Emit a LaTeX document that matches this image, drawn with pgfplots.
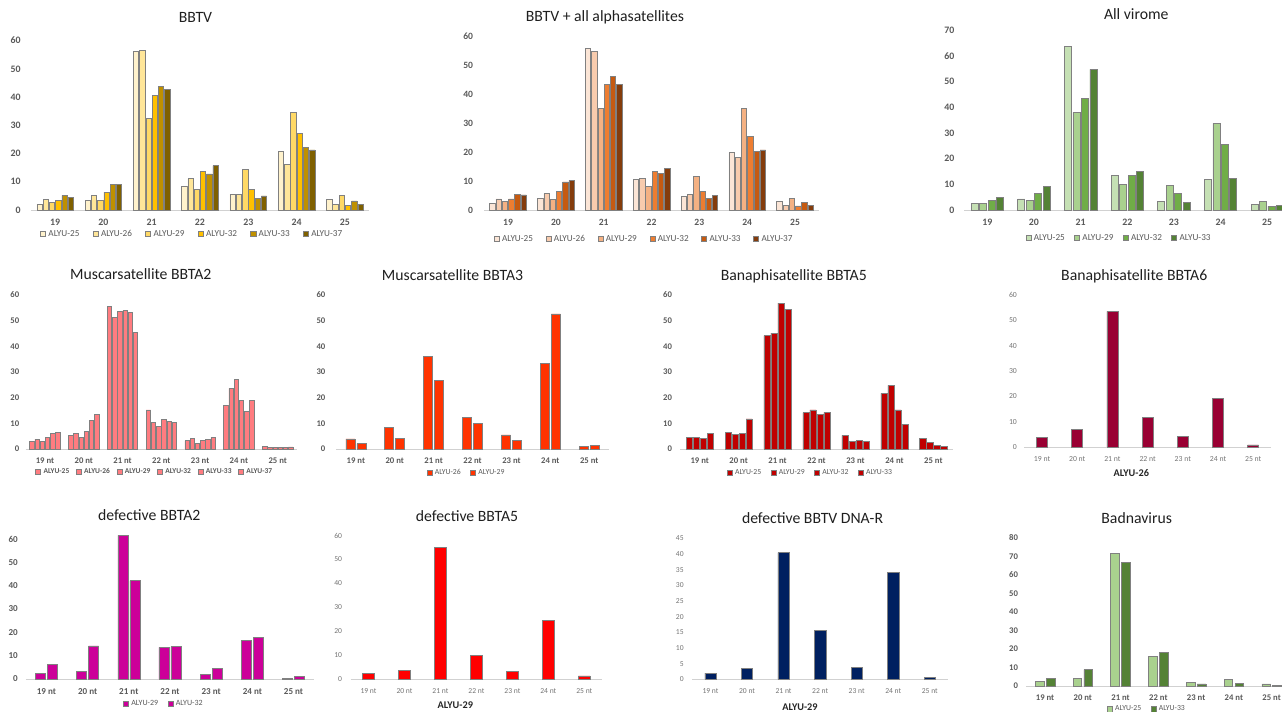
\documentclass[border=0pt]{standalone}
\usepackage{fontspec}
\setmainfont{Carlito}
\usepackage{pgfplots}
\usepackage{pgfplotstable}
\pgfplotsset{compat=1.18}
\newcommand{\fs}[1]{\fontsize{#1}{#1}\selectfont}
\definecolor{tg}{HTML}{595959}
\definecolor{ya}{HTML}{FFF2CC}\definecolor{yb}{HTML}{FFE699}\definecolor{yc}{HTML}{FFD966}
\definecolor{yd}{HTML}{FFC000}\definecolor{ye}{HTML}{BF9000}\definecolor{yf}{HTML}{7F6000}
\definecolor{oa}{HTML}{FBE5D6}\definecolor{ob}{HTML}{F8CBAD}\definecolor{oc}{HTML}{F4B183}
\definecolor{od}{HTML}{ED7D31}\definecolor{oe}{HTML}{C55A11}\definecolor{of}{HTML}{843C0C}
\definecolor{ga}{HTML}{C5E0B4}\definecolor{gb}{HTML}{A9D18E}\definecolor{gc}{HTML}{70AD47}\definecolor{gd}{HTML}{548235}
\definecolor{salmon}{HTML}{FF7C80}\definecolor{ored}{HTML}{FF3300}\definecolor{dred}{HTML}{C00000}
\definecolor{crim}{HTML}{990033}\definecolor{mag}{HTML}{CC0099}\definecolor{rd}{HTML}{FF0000}\definecolor{navy}{HTML}{002060}

\pgfplotstableread{
x a25 a26 a29 a32 a33 a37
0 2.1 3.8 2.8 3.4 5.2 4.6
1 3.4 5.2 3.3 6.3 9.1 9.1
2 56.1 56.6 32.5 40.6 43.7 42.6
3 8.4 11.1 7.4 13.8 12.8 15.7
4 5.6 5.6 14.4 7.2 4.1 5.0
5 20.9 16.2 34.6 27.2 22.2 21.3
6 3.8 2.0 5.1 1.5 3.2 1.9
}\tbbtv
\pgfplotstableread{
x a25 a26 a29 a32 a33 a37
0 2.4 3.8 2.9 3.8 5.4 5.2
1 4.0 5.6 3.7 6.3 9.7 10.1
2 55.6 54.7 35.1 43.2 46.0 43.2
3 10.5 10.9 8.0 13.4 12.5 14.3
4 4.7 5.4 11.5 6.4 4.0 4.9
5 19.8 18.0 35.1 25.5 20.1 20.7
6 3.0 1.7 4.1 1.4 2.6 1.7
}\tbba
\pgfplotstableread{
x a25 a29 a32 a33
0 2.5 2.7 3.8 4.9
1 4.3 3.8 6.5 9.3
2 63.5 38.0 43.3 54.7
3 13.4 9.9 13.5 14.9
4 3.4 9.6 6.6 2.9
5 11.8 33.7 25.5 12.2
6 2.1 3.2 1.4 1.8
}\tvir
\pgfplotstableread{
x a25 a26 a29 a32 a33 a37
0 2.9 3.8 3.0 4.5 6.1 6.6
1 5.2 6.1 4.5 6.8 11.0 13.4
2 55.5 51.3 53.6 54.0 53.1 45.5
3 15.2 10.3 8.8 11.4 10.6 10.3
4 3.2 4.2 2.3 3.5 3.6 4.4
5 17.0 23.6 27.0 18.8 14.7 18.8
6 0.9 0.6 0.6 0.6 0.6 0.8
}\tmtwo
\pgfplotstableread{
x a26 a29
0 3.9 2.1
1 8.4 4.0
2 36.0 26.6
3 12.3 10.1
4 5.5 3.5
5 33.4 52.6
6 0.9 1.4
}\tmthree
\pgfplotstableread{
x a25 a29 a32 a33
0 4.4 4.4 4.0 6.2
1 6.5 5.6 6.2 11.7
2 44.2 45.1 56.8 54.5
3 14.2 15.2 13.5 14.3
4 5.3 2.9 3.2 3.1
5 21.7 24.8 15.2 9.7
6 4.2 2.5 1.4 0.9
}\tbfive
\pgfplotstableread{
x a29 a32
0 2.4 6.2
1 3.3 14.2
2 61.6 42.1
3 13.6 13.9
4 2.1 4.7
5 16.5 17.8
6 0.4 1.0
}\tdtwo
\pgfplotstableread{
x a25 a33
0 2.3 4.3
1 4.3 8.8
2 71.6 66.5
3 16.0 18.0
4 2.0 1.1
5 3.6 1.4
6 1.1 0.4
}\tbad

\pgfplotsset{
  panel/.style={
    scale only axis, ybar, ymin=0, xmin=-0.5, xmax=6.5,
    xtick={0,...,6},
    axis lines*=left, axis line style={-},
    y axis line style={draw=none},
    x axis line style={draw=black!18, line width=0.7pt},
    major tick length=0pt,
    /pgf/number format/assume math mode=true,
    tick label style={text=tg},
    xticklabel style={yshift=-3.4pt},
    legend style={draw=none, fill=none, legend columns=-1, text=tg, anchor=center,
      /tikz/every even column/.append style={column sep=5pt}},
    clip=false,
  },
  bb/.style={fill=#1, draw=black!50, line width=0.45pt,
    /pgfplots/legend image code/.code={\draw[fill=#1, draw=black!50, line width=0.4pt] (0pt,-1.9pt) rectangle (3.8pt,1.9pt);}},
  ntlab/.style={xticklabels={19 nt,20 nt,21 nt,22 nt,23 nt,24 nt,25 nt}},
}

\begin{document}
\begin{tikzpicture}
\useasboundingbox (0,0) rectangle (961.5pt,534pt);

% ---------- Row 1 ----------
\begin{axis}[panel, at={(23.25pt,376.5pt)}, anchor=south west,
  width=253.5pt, height=127pt, ymax=60, ytick={0,10,...,60},
  bar width=4pt, ybar=0.7pt,
  xticklabels={19,20,21,22,23,24,25},
  tick label style={font=\bfseries\fs{7.4}},
  yticklabel style={xshift=-4.2pt},
  legend style={at={(0.478,-0.142)}, font=\fs{6.9}, /tikz/every even column/.append style={column sep=8pt}}]
\addplot[bb=ya] table[x=x,y=a25]{\tbbtv};
\addplot[bb=yb] table[x=x,y=a26]{\tbbtv};
\addplot[bb=yc] table[x=x,y=a29]{\tbbtv};
\addplot[bb=yd] table[x=x,y=a32]{\tbbtv};
\addplot[bb=ye] table[x=x,y=a33]{\tbbtv};
\addplot[bb=yf] table[x=x,y=a37]{\tbbtv};
\legend{ALYU-25,ALYU-26,ALYU-29,ALYU-32,ALYU-33,ALYU-37}
\end{axis}

\begin{axis}[panel, at={(363.1pt,376.5pt)}, anchor=south west,
  width=251.1pt, height=130.5pt, ymax=60, ytick={0,10,...,60},
  bar width=4pt, ybar=0.7pt,
  xticklabels={19,20,21,22,23,24,25},
  tick label style={font=\bfseries\fs{7.2}},
  yticklabel style={xshift=-4.8pt},
  legend style={at={(0.479,-0.167)}, font=\fs{6.9}, /tikz/every even column/.append style={column sep=7.5pt}}]
\addplot[bb=oa] table[x=x,y=a25]{\tbba};
\addplot[bb=ob] table[x=x,y=a26]{\tbba};
\addplot[bb=oc] table[x=x,y=a29]{\tbba};
\addplot[bb=od] table[x=x,y=a32]{\tbba};
\addplot[bb=oe] table[x=x,y=a33]{\tbba};
\addplot[bb=of] table[x=x,y=a37]{\tbba};
\legend{ALYU-25,ALYU-26,ALYU-29,ALYU-32,ALYU-33,ALYU-37}
\end{axis}

\begin{axis}[panel, at={(723pt,376.5pt)}, anchor=south west,
  width=244.9pt, height=135pt, ymax=70, ytick={0,10,...,70},
  bar width=5.25pt, ybar=1.1pt,
  xticklabels={19,20,21,22,23,24,25},
  tick label style={font=\bfseries\fs{7.4}},
  yticklabel style={xshift=-3.7pt},
  legend style={at={(0.476,-0.156)}, font=\fs{6.9}}]
\addplot[bb=ga] table[x=x,y=a25]{\tvir};
\addplot[bb=gb] table[x=x,y=a29]{\tvir};
\addplot[bb=gc] table[x=x,y=a32]{\tvir};
\addplot[bb=gd] table[x=x,y=a33]{\tvir};
\legend{ALYU-25,ALYU-29,ALYU-32,ALYU-33}
\end{axis}

% ---------- Row 2 ----------
\begin{axis}[panel, ntlab, at={(19.2pt,197.25pt)}, anchor=south west,
  width=203.6pt, height=115.5pt, ymax=60, ytick={0,10,...,60},
  bar width=3.3pt, ybar=0.6pt,
  tick label style={font=\bfseries\fs{6.5}},
  yticklabel style={xshift=-1.3pt},
  legend style={at={(0.477,-0.149)}, font=\bfseries\fs{5.6}, /tikz/every even column/.append style={column sep=3pt}}]
\addplot[bb=salmon] table[x=x,y=a25]{\tmtwo};
\addplot[bb=salmon] table[x=x,y=a26]{\tmtwo};
\addplot[bb=salmon] table[x=x,y=a29]{\tmtwo};
\addplot[bb=salmon] table[x=x,y=a32]{\tmtwo};
\addplot[bb=salmon] table[x=x,y=a33]{\tmtwo};
\addplot[bb=salmon] table[x=x,y=a37]{\tmtwo};
\legend{ALYU-25,ALYU-26,ALYU-29,ALYU-32,ALYU-33,ALYU-37}
\end{axis}

\begin{axis}[panel, ntlab, at={(252.3pt,197.25pt)}, anchor=south west,
  width=204.2pt, height=115.5pt, ymax=60, ytick={0,10,...,60},
  bar width=6.75pt, ybar=1.5pt,
  tick label style={font=\bfseries\fs{6.5}},
  yticklabel style={xshift=-4.8pt},
  legend style={at={(0.479,-0.154)}, font=\fs{5.8}}]
\addplot[bb=ored] table[x=x,y=a26]{\tmthree};
\addplot[bb=ored] table[x=x,y=a29]{\tmthree};
\legend{ALYU-26,ALYU-29}
\end{axis}

\begin{axis}[panel, ntlab, at={(510.15pt,197.25pt)}, anchor=south west,
  width=204.5pt, height=115.5pt, ymax=60, ytick={0,10,...,60},
  bar width=4.65pt, ybar=0.6pt,
  tick label style={font=\bfseries\fs{6.5}},
  yticklabel style={xshift=-2.7pt},
  legend style={at={(0.479,-0.154)}, font=\fs{5.8}}]
\addplot[bb=dred] table[x=x,y=a25]{\tbfive};
\addplot[bb=dred] table[x=x,y=a29]{\tbfive};
\addplot[bb=dred] table[x=x,y=a32]{\tbfive};
\addplot[bb=dred] table[x=x,y=a33]{\tbfive};
\legend{ALYU-25,ALYU-29,ALYU-32,ALYU-33}
\end{axis}

\begin{axis}[panel, ntlab, at={(768.3pt,198.75pt)}, anchor=south west,
  width=184.8pt, height=114pt, ymax=60, ytick={0,10,...,60},
  bar width=8.25pt,
  tick label style={font=\fs{5.8}, text=black!55},
  yticklabel style={xshift=-2.1pt}]
\addplot[bb=crim] coordinates {(0,3.8)(1,7.0)(2,53.5)(3,11.6)(4,4.1)(5,19.1)(6,0.8)};
\end{axis}

% ---------- Row 3 ----------
\begin{axis}[panel, ntlab, at={(19.4pt,24.75pt)}, anchor=south west,
  width=216.2pt, height=105pt, ymax=60, ytick={0,10,...,60},
  bar width=7.5pt, ybar=1.5pt,
  tick label style={font=\bfseries\fs{6.8}},
  yticklabel style={xshift=-2.5pt},
  legend style={at={(0.48,-0.179)}, font=\fs{6}}]
\addplot[bb=mag] table[x=x,y=a29]{\tdtwo};
\addplot[bb=mag] table[x=x,y=a32]{\tdtwo};
\legend{ALYU-29,ALYU-32}
\end{axis}

\begin{axis}[panel, ntlab, at={(262.9pt,24.75pt)}, anchor=south west,
  width=188.8pt, height=107.5pt, ymax=60, ytick={0,10,...,60},
  bar width=8.8pt,
  tick label style={font=\fs{5.7}, text=black!55},
  yticklabel style={xshift=-2.9pt}]
\addplot[bb=rd] coordinates {(0,2.5)(1,3.5)(2,55.1)(3,10.0)(4,3.3)(5,24.4)(6,1.3)};
\end{axis}

\begin{axis}[panel, ntlab, at={(519.15pt,24.5pt)}, anchor=south west,
  width=191.9pt, height=105.75pt, ymax=45, ytick={0,5,...,45},
  bar width=8.5pt,
  tick label style={font=\fs{5.7}, text=black!55},
  yticklabel style={xshift=-2.9pt}]
\addplot[bb=navy] coordinates {(0,2.0)(1,3.5)(2,40.4)(3,15.5)(4,3.8)(5,34.1)(6,0.6)};
\end{axis}

\begin{axis}[panel, ntlab, at={(769.6pt,19.5pt)}, anchor=south west,
  width=198.3pt, height=111.2pt, ymax=80, ytick={0,10,...,80},
  bar width=6.5pt, ybar=1.7pt,
  tick label style={font=\bfseries\fs{6.5}},
  yticklabel style={xshift=-2.6pt},
  legend style={at={(0.458,-0.157)}, font=\fs{5.8}}]
\addplot[bb=gb] table[x=x,y=a25]{\tbad};
\addplot[bb=gd] table[x=x,y=a33]{\tbad};
\legend{ALYU-25,ALYU-33}
\end{axis}

% ---------- Titles ----------
\begin{scope}[every node/.style={anchor=base, font=\fs{11.8}, text=black!88, inner sep=0pt}]
\node at (146.6pt,517pt) {BBTV};
\node at (453.75pt,517.7pt) {BBTV + all alphasatellites};
\node at (852.2pt,519pt) {All virome};
\node at (105.6pt,324.5pt) {Muscarsatellite BBTA2};
\node at (339.4pt,323.5pt) {Muscarsatellite BBTA3};
\node at (595.35pt,323.5pt) {Banaphisatellite BBTA5};
\node at (850.7pt,323.5pt) {Banaphisatellite BBTA6};
\node at (111.9pt,143.5pt) {defective BBTA2};
\node at (350.25pt,142.7pt) {defective BBTA5};
\node at (609.4pt,141pt) {defective BBTV DNA-R};
\node at (852.5pt,141pt) {Badnavirus};
\end{scope}
\begin{scope}[every node/.style={anchor=base, font=\bfseries\fs{7.7}, text=black!85, inner sep=0pt}]
\node at (848.5pt,176.5pt) {ALYU-26};
\node at (341.5pt,2.8pt) {ALYU-29};
\node at (600pt,1pt) {ALYU-29};
\end{scope}
\end{tikzpicture}
\end{document}
